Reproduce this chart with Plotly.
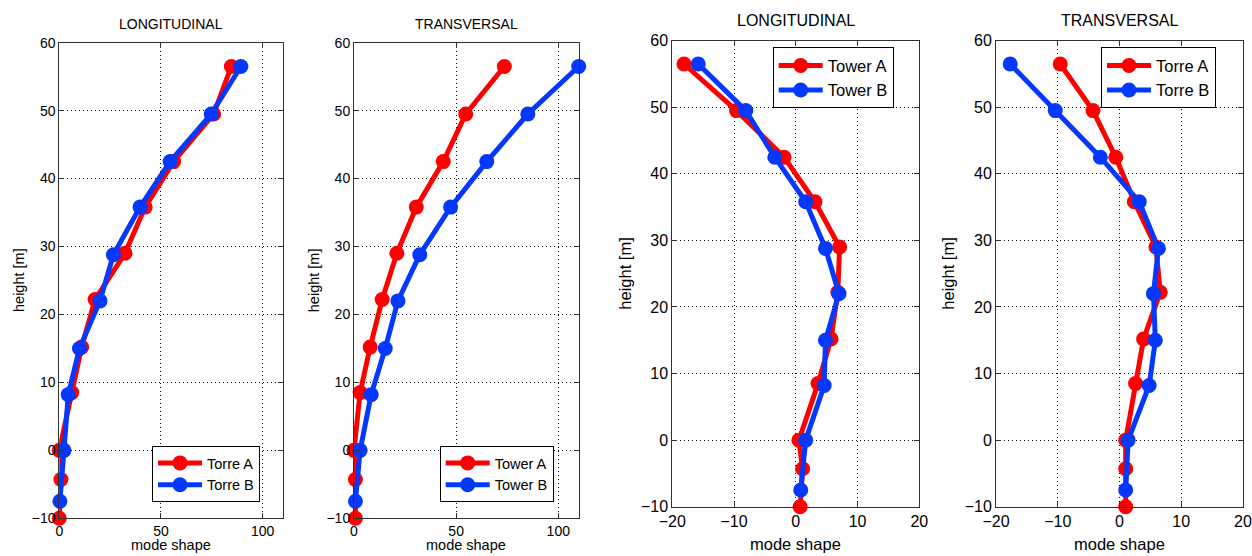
import plotly.graph_objects as go

# Sensor heights [m] for each tower
heights_A = [56.5, 49.5, 42.5, 35.8, 29.0, 22.2, 15.2, 8.5, 0.0, -4.3, -10.0]
heights_B = [56.5, 49.5, 42.5, 35.8, 28.8, 22.0, 15.0, 8.2, 0.0, -7.5]

# Mode shapes: panel 1 (longitudinal), panel 2 (transversal)
long1_A = [84.6, 75.9, 56.2, 42.2, 32.3, 17.6, 11.0, 6.1, 0.0, 0.8, 0.0]
long1_B = [89.3, 74.7, 54.5, 39.7, 26.6, 20.0, 9.9, 4.4, 2.3, 0.3]
trans1_A = [73.6, 54.7, 43.7, 30.5, 21.0, 13.8, 7.9, 3.0, 0.0, 0.7, 0.7]
trans1_B = [110.0, 85.1, 65.0, 47.3, 32.2, 21.5, 15.3, 8.4, 3.0, 0.7]

# Mode shapes: panel 3 (longitudinal), panel 4 (transversal)
long2_A = [-18.1, -9.6, -1.9, 3.1, 7.1, 6.8, 5.7, 3.6, 0.5, 1.1, 0.7]
long2_B = [-15.8, -8.1, -3.4, 1.6, 4.8, 7.0, 4.8, 4.6, 1.6, 0.8]
trans2_A = [-9.6, -4.3, -0.6, 2.4, 5.9, 6.6, 3.9, 2.6, 1.0, 1.0, 1.0]
trans2_B = [-17.7, -10.4, -3.1, 3.2, 6.3, 5.5, 5.8, 4.8, 1.4, 1.0]

panel_titles = ["LONGITUDINAL", "TRANSVERSAL", "LONGITUDINAL", "TRANSVERSAL"]
legend_names = [("Torre A", "Torre B"), ("Tower A", "Tower B"),
                ("Tower A", "Tower B"), ("Torre A", "Torre B")]
x_ticks_left = [0, 50, 100]
x_ticks_right = [-20, -10, 0, 10, 20]
y_ticks = [-10, 0, 10, 20, 30, 40, 50, 60]

RED = "#ff0000"
BLUE = "#0538ff"
W, H = 1252, 556
FONT = "Liberation Sans, Arial, sans-serif"

# pixel boxes of each axes: (left, right, top, bottom)
boxes = [(59.3, 283.0, 42.7, 518.3), (354.0, 578.7, 42.7, 518.3),
         (672.3, 919.3, 40.7, 506.7), (996.0, 1243.0, 40.7, 506.7)]
xranges = [[0, 110], [0, 110], [-20, 20], [-20, 20]]
xticks = [x_ticks_left, x_ticks_left, x_ticks_right, x_ticks_right]
tick_sizes = [14, 14, 16, 16]
text_sizes = [14.5, 14.5, 16.5, 16.5]
legend_pos = [(152.0, 446.0), (439.7, 446.0), (772.7, 47.3), (1101.0, 47.3)]
ylabel_x = [18.5, 313.7, 625.0, 948.0]
title_y = [24.0, 24.0, 21.0, 21.0]
xlabel_y = [545.0, 545.0, 544.0, 544.0]

data = [(long1_A, long1_B), (trans1_A, trans1_B), (long2_A, long2_B), (trans2_A, trans2_B)]

fig = go.Figure()
layout = dict(template="none", width=W, height=H, margin=dict(l=0, r=0, t=0, b=0, pad=0),
              paper_bgcolor="white", plot_bgcolor="white", showlegend=True,
              font=dict(family=FONT, color="#000", size=14), annotations=[])

for i, ((xa, xb), (l, r, t, b)) in enumerate(zip(data, boxes)):
    k = "" if i == 0 else str(i + 1)
    leg = "legend" + k
    for xs, ys, name, col in ((xa, heights_A, legend_names[i][0], RED),
                              (xb, heights_B, legend_names[i][1], BLUE)):
        fig.add_trace(go.Scatter(
            x=xs, y=ys, name=name, mode="lines+markers",
            xaxis="x" + k, yaxis="y" + k, legend=leg, cliponaxis=False,
            line=dict(color=col, width=5),
            marker=dict(color=col, size=15, symbol="circle", line=dict(width=0)),
        ))
    fs = tick_sizes[i]
    ts = text_sizes[i]
    axis_common = dict(showline=True, linecolor="#303030", linewidth=1, mirror="ticks",
                       ticks="inside", ticklen=5, tickcolor="#303030", automargin=False,
                       showgrid=True, gridcolor="#000", gridwidth=1, griddash="1px,3px",
                       zeroline=False, tickfont=dict(size=fs, family=FONT, color="#000"))
    layout["xaxis" + k] = dict(axis_common, domain=[l / W, r / W], range=xranges[i],
                               tickvals=xticks[i], anchor="y" + k)
    layout["yaxis" + k] = dict(axis_common, domain=[1 - b / H, 1 - t / H], range=[-10, 60],
                               tickvals=y_ticks, anchor="x" + k)
    lx, ly = legend_pos[i]
    layout[leg] = dict(x=lx / W, y=1 - ly / H, xanchor="left", yanchor="top",
                       bgcolor="white", bordercolor="#000", borderwidth=1,
                       font=dict(size=ts, family=FONT, color="#000"),
                       itemwidth=44, tracegroupgap=0)
    cx = (l + r) / 2
    layout["annotations"] += [
        dict(text=panel_titles[i], x=cx / W, y=1 - title_y[i] / H, xref="paper", yref="paper",
             xanchor="center", yanchor="middle", showarrow=False, font=dict(size=ts - 0.5)),
        dict(text="height [m]", x=ylabel_x[i] / W, y=1 - ((t + b) / 2) / H, xref="paper",
             yref="paper", xanchor="center", yanchor="middle", textangle=-90,
             showarrow=False, font=dict(size=ts)),
        dict(text="mode shape", x=cx / W, y=1 - xlabel_y[i] / H, xref="paper", yref="paper",
             xanchor="center", yanchor="middle", showarrow=False, font=dict(size=ts)),
    ]

fig.update_layout(**layout)
fig.write_html("out.html")
